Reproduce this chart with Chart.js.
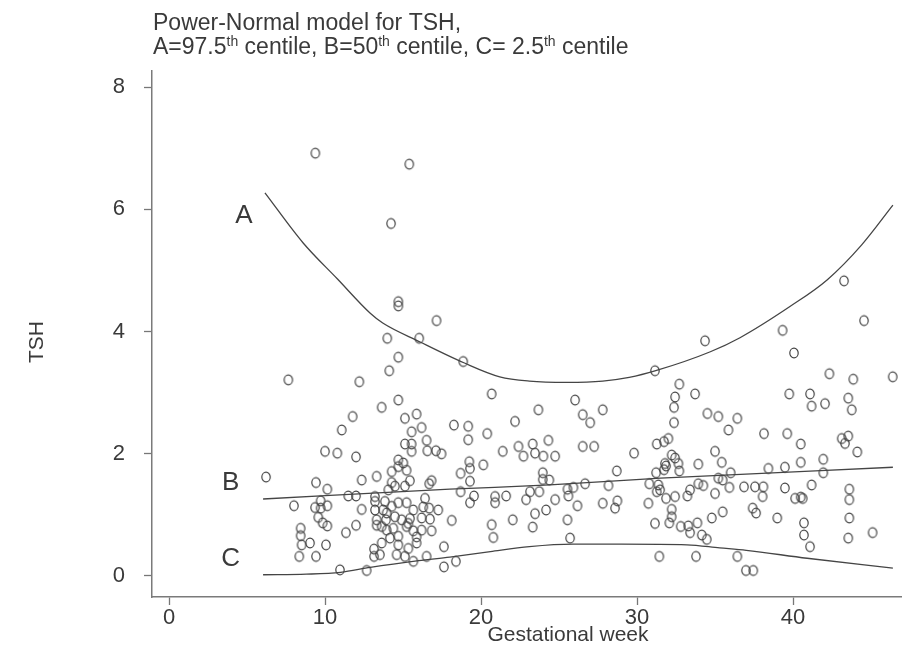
<!DOCTYPE html>
<html><head><meta charset="utf-8">
<script src="https://cdn.jsdelivr.net/npm/chart.js@4.4.1/dist/chart.umd.min.js"></script>
<style>html,body{margin:0;padding:0;background:#fff;overflow:hidden;}#wrap{width:902px;height:648px;overflow:hidden;}</style>
</head><body><div id="wrap"><canvas id="c" width="984" height="648"></canvas></div>
<script>
// ---- text ----
const titleLine1 = "Power-Normal model for TSH,";
const titleLine2 = [["A=97.5", false], ["th", true], [" centile, B=50", false], ["th", true], [" centile, C= 2.5", false], ["th", true], [" centile", false]];
const xAxisTitle = "Gestational week";
const yAxisTitle = "TSH";
const xTicks = [0, 10, 20, 30, 40];
const yTicks = [0, 2, 4, 6, 8];

// ---- observations (gestational week, TSH) ----
const weeks = [
  9.38,15.4,14.23,14.7,14.7,7.65,12.2,11.77,11.07,10.0,10.79,11.99,6.22,9.42,10.15,12.35,9.72,11.49,11.99,8.01,9.36,9.72,10.15,12.35,9.57,9.85,10.15,8.44,8.44,8.5,9.04,10.06,11.99,11.34,8.35,9.42,10.96,12.67,
  17.15,13.99,16.04,14.7,18.86,14.12,20.68,14.7,13.63,15.12,15.87,16.19,15.55,18.26,19.18,19.18,20.4,15.12,15.55,15.55,16.51,16.56,17.11,17.47,14.7,15.02,14.27,13.31,14.27,15.44,16.83,18.69,19.25,19.29,20.15,19.29,14.48,15.12,14.06,16.68,18.69,19.55,19.29,20.9,20.9,13.2,13.2,13.2,13.84,13.73,14.7,15.23,15.66,16.41,16.68,17.26,14.48,14.91,15.34,16.19,16.73,18.12,13.31,13.91,14.38,15.66,16.19,16.83,20.68,20.79,13.63,14.7,14.7,15.87,15.34,13.14,14.59,15.12,15.66,16.51,17.62,17.62,18.39,13.14,13.52,
  15.45,15.23,15.87,14.16,13.95,13.31,13.63,13.95,14.27,14.7,15.23,16.3,
  26.03,23.68,27.8,26.52,27.0,22.18,21.39,22.4,23.31,24.32,22.72,23.46,24.0,24.75,26.52,27.25,23.96,23.96,24.38,28.7,21.61,22.89,23.14,23.74,24.17,24.75,25.54,25.6,25.92,26.67,26.18,28.17,27.8,28.59,22.03,23.46,23.31,25.54,25.71,
  34.36,31.15,32.71,32.44,33.72,32.37,34.51,35.21,36.43,32.37,35.86,31.26,31.73,32.01,29.81,32.22,32.44,35.0,33.93,35.43,31.86,31.73,32.71,31.22,36.0,35.21,30.79,31.37,33.93,34.25,35.49,35.92,36.86,31.26,31.48,32.44,31.86,33.4,33.23,35.0,28.74,30.73,32.22,35.49,34.79,32.22,31.15,32.07,32.8,33.29,33.87,33.4,34.15,34.47,31.43,33.78,36.43,31.79,32.65,
  43.27,44.55,39.33,40.06,42.33,43.86,46.39,39.76,41.09,41.19,42.05,43.54,43.76,38.14,39.63,40.49,43.12,43.33,43.54,44.12,38.42,39.48,40.49,41.94,41.94,37.56,38.1,38.05,39.48,41.19,40.13,40.49,40.62,43.61,43.61,37.41,37.63,38.99,40.7,40.7,43.61,45.1,43.54,41.09,36.98,37.45
];
const tsh = [
  6.92,6.74,5.77,4.49,4.42,3.21,3.18,2.61,2.39,2.04,2.01,1.95,1.62,1.53,1.42,1.57,1.23,1.31,1.31,1.15,1.12,1.11,1.15,1.09,0.96,0.87,0.82,0.78,0.66,0.51,0.54,0.51,0.83,0.71,0.32,0.32,0.10,0.09,
  4.18,3.89,3.89,3.58,3.51,3.36,2.98,2.88,2.76,2.58,2.65,2.43,2.36,2.47,2.45,2.23,2.33,2.16,2.16,2.04,2.22,2.05,2.05,2.0,1.9,1.85,1.71,1.63,1.53,1.56,1.56,1.68,1.87,1.76,1.82,1.55,1.47,1.47,1.41,1.51,1.38,1.31,1.2,1.3,1.2,1.3,1.22,1.08,1.22,1.08,1.2,1.2,1.08,1.27,1.11,1.08,0.97,0.92,0.86,0.95,0.93,0.91,0.92,0.92,0.78,0.74,0.75,0.74,0.84,0.63,0.54,0.65,0.51,0.54,0.45,0.44,0.35,0.32,0.24,0.32,0.48,0.15,0.24,0.32,0.35,
  0.94,0.81,0.64,0.62,0.75,0.83,0.81,1.03,1.14,1.79,1.73,1.13,
  2.88,2.72,2.72,2.64,2.51,2.53,2.04,2.12,2.16,2.22,1.96,2.01,1.96,1.96,2.12,2.12,1.69,1.58,1.57,1.72,1.31,1.25,1.38,1.38,1.08,1.25,1.42,1.31,1.45,1.51,1.15,1.48,1.19,1.11,0.92,1.02,0.8,0.92,0.62,
  3.85,3.36,3.14,2.93,2.98,2.76,2.66,2.61,2.58,2.51,2.39,2.16,2.2,2.25,2.01,1.98,1.93,2.04,1.83,1.86,1.8,1.74,1.72,1.69,1.69,1.6,1.51,1.49,1.51,1.48,1.57,1.45,1.46,1.38,1.41,1.3,1.27,1.41,1.31,1.35,1.23,1.19,1.09,1.05,0.95,0.97,0.86,0.87,0.81,0.82,0.87,0.71,0.67,0.6,0.32,0.32,0.32,1.84,1.84,
  4.83,4.18,4.02,3.65,3.31,3.22,3.26,2.98,2.98,2.78,2.82,2.91,2.72,2.33,2.33,2.16,2.25,2.17,2.29,2.03,1.76,1.78,1.86,1.91,1.69,1.46,1.46,1.3,1.44,1.49,1.27,1.29,1.27,1.42,1.25,1.11,1.03,0.95,0.87,0.67,0.95,0.71,0.62,0.48,0.09,0.09
];

// ---- centile curves ----
const curveAWeek = [6.15,8.6,10.8,12.9,13.7,16.1,18.9,21.2,23.1,25.5,27.8,29.5,31.2,34.7,36.6,39.8,42.2,44.4,46.4];
const curveATsh  = [6.27,5.45,4.86,4.30,4.14,3.83,3.49,3.26,3.19,3.17,3.19,3.25,3.36,3.67,3.9,4.41,4.85,5.42,6.07];
const curveBWeek = [6.03,18.0,24.4,31.5,46.4];
const curveBTsh  = [1.26,1.42,1.49,1.6,1.78];
const curveCWeek = [6.03,8.8,11.0,12.9,16.0,18.0,20.6,23.1,25.9,29.0,33.2,35.3,37.0,40.9,46.4];
const curveCTsh  = [0.02,0.03,0.06,0.14,0.25,0.31,0.40,0.48,0.52,0.52,0.51,0.46,0.42,0.29,0.13];

const curveLabels = ["A", "B", "C"];
const curveLabelWeek = [4.8, 3.95, 3.95];
const curveLabelTsh = [5.9, 1.52, 0.28];

// ---- build ----
const FONT = '"Liberation Sans", Arial, Helvetica, sans-serif';
const TEXT = '#3a3a3a';
const n = Math.min(weeks.length, tsh.length);
const points = [];
for (let i = 0; i < n; i++) points.push({x: weeks[i], y: tsh[i]});
const zip = (a, b) => a.map((v, i) => ({x: v, y: b[i]}));

function ring() {
  const c = document.createElement('canvas');
  c.width = 12; c.height = 14;
  const g = c.getContext('2d');
  g.strokeStyle = '#444444'; g.lineWidth = 1.2;
  g.beginPath(); g.ellipse(6, 7, 4.2, 4.9, 0, 0, Math.PI * 2); g.stroke();
  return c;
}

const titlePlugin = {
  id: 'rtitle',
  afterDraw(chart) {
    const g = chart.ctx;
    g.save();
    g.fillStyle = TEXT; g.textAlign = 'left'; g.textBaseline = 'alphabetic';
    g.font = '23px ' + FONT;
    g.fillText(titleLine1, 153, 30);
    let x = 153;
    for (const [t, sup] of titleLine2) {
      g.font = (sup ? '14px ' : '23px ') + FONT;
      g.fillText(t, x, sup ? 46 : 54);
      x += g.measureText(t).width;
    }
    // y axis title (R places it slightly below the plot-centre here)
    g.translate(37, 342);
    g.rotate(-Math.PI / 2);
    g.textAlign = 'center'; g.textBaseline = 'middle';
    g.font = '21px ' + FONT;
    g.fillText(yAxisTitle, 0, 0);
    g.restore();
  }
};

const curveLabelPlugin = {
  id: 'clabels',
  afterDatasetsDraw(chart) {
    const g = chart.ctx, xs = chart.scales.x, ys = chart.scales.y;
    g.save();
    g.fillStyle = TEXT; g.textAlign = 'center'; g.textBaseline = 'middle';
    g.font = '26px ' + FONT;
    curveLabels.forEach((t, i) => g.fillText(t, xs.getPixelForValue(curveLabelWeek[i]), ys.getPixelForValue(curveLabelTsh[i])));
    g.restore();
  }
};

const lineDs = (data) => ({data, showLine: true, pointRadius: 0, borderColor: '#454545', borderWidth: 1.3, tension: 0.4, cubicInterpolationMode: 'monotone', fill: false});

new Chart(document.getElementById('c'), {
  type: 'scatter',
  data: {
    datasets: [
      {data: points, pointStyle: ring(), pointRadius: 5, showLine: false},
      lineDs(zip(curveAWeek, curveATsh)),
      lineDs(zip(curveBWeek, curveBTsh)),
      lineDs(zip(curveCWeek, curveCTsh))
    ]
  },
  options: {
    responsive: false, devicePixelRatio: 1, animation: false,
    layout: {autoPadding: false, padding: {top: 71, right: 0, bottom: 0, left: 0}},
    plugins: {legend: {display: false}, tooltip: {enabled: false}, title: {display: false}},
    scales: {
      x: {
        type: 'linear', min: -1.09, max: 52.24,
        afterBuildTicks: s => { s.ticks = xTicks.map(v => ({value: v})); },
        afterFit: s => { s.height = 51; s.paddingLeft = 0; s.paddingRight = 0; },
        grid: {drawOnChartArea: false, drawTicks: true, tickLength: 8, tickColor: '#777', tickWidth: 1.3},
        border: {color: '#7a7a7a', width: 1.5},
        ticks: {color: TEXT, font: {family: FONT, size: 22}, padding: 0, maxRotation: 0, autoSkip: false},
        title: {display: true, text: xAxisTitle, color: TEXT, font: {family: FONT, size: 21}, padding: {top: 0, bottom: 0}}
      },
      y: {
        type: 'linear', min: -0.344, max: 8.265,
        afterBuildTicks: s => { s.ticks = yTicks.map(v => ({value: v})); },
        afterFit: s => { s.width = 152; s.paddingTop = 0; s.paddingBottom = 0; },
        grid: {drawOnChartArea: false, drawTicks: true, tickLength: 8, tickColor: '#777', tickWidth: 1.3},
        border: {color: '#7a7a7a', width: 1.5},
        ticks: {color: TEXT, font: {family: FONT, size: 22}, padding: 19, autoSkip: false},
        title: {display: false, text: yAxisTitle}
      }
    }
  },
  plugins: [titlePlugin, curveLabelPlugin]
});
</script>
</body></html>
